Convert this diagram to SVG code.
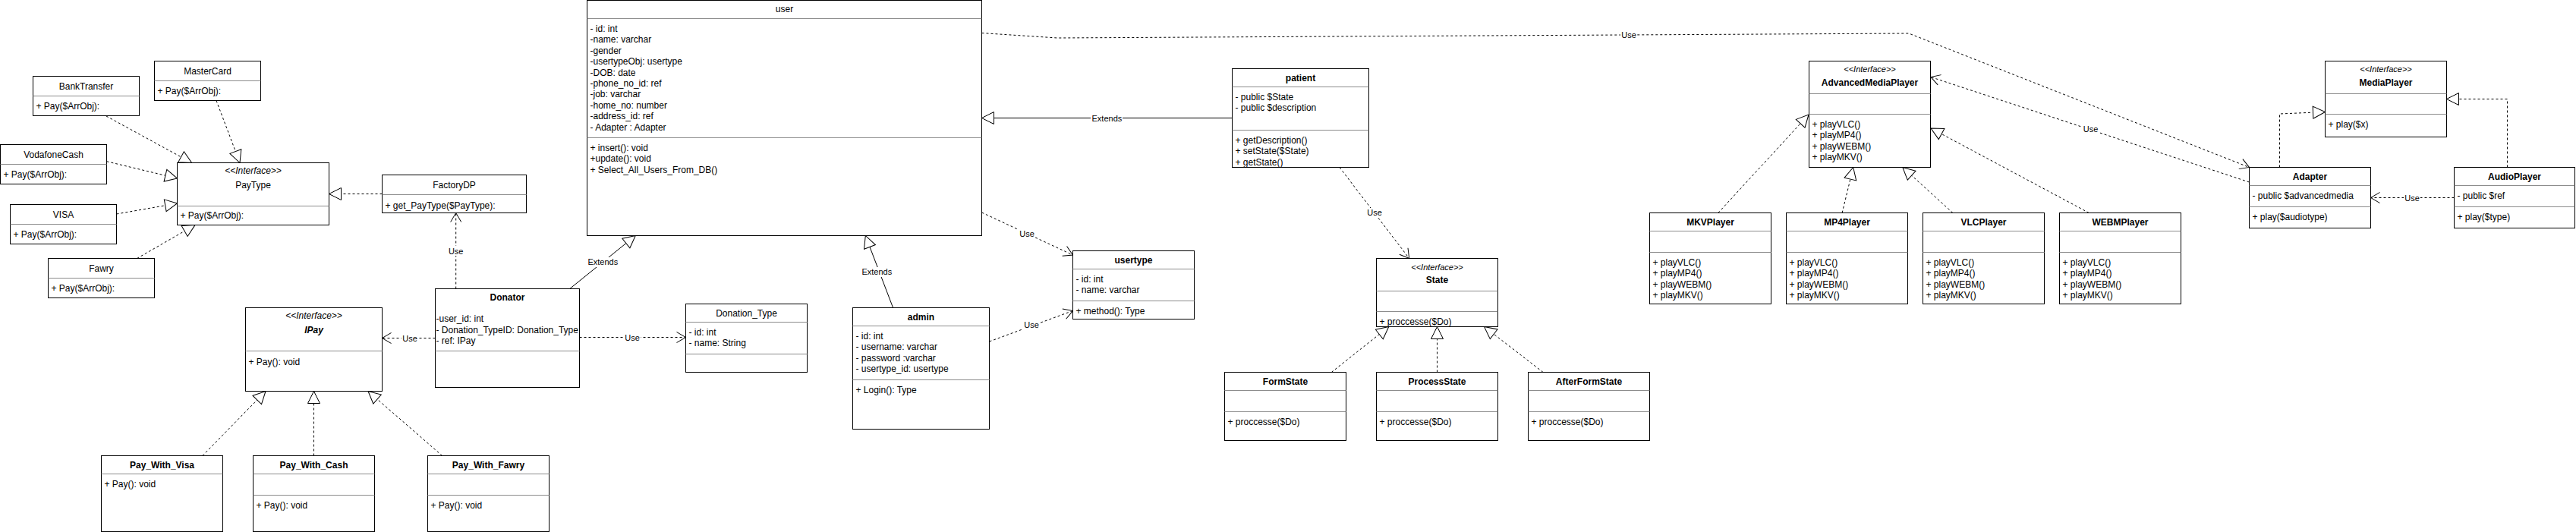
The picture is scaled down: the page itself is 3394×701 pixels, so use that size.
<svg xmlns="http://www.w3.org/2000/svg" width="3394" height="701" viewBox="0 0 3394 701">
<style>
.box{fill:#fff;stroke:#000;stroke-width:1}
.dv{stroke:#8c8c8c;stroke-width:1}
text{font-family:"Liberation Sans",Arial,Helvetica,sans-serif;font-size:12px;fill:#000}
.c{text-anchor:middle}
.b{font-weight:bold}
.i{font-style:italic}
.dash{fill:none;stroke:#000;stroke-width:1;stroke-dasharray:3 3}
.solid{fill:none;stroke:#000;stroke-width:1}
.lbl{font-size:11px;text-anchor:middle}
.lb{fill:#fff;stroke:none}
</style>
<defs>
<marker id="tri" viewBox="0 0 18 18" refX="17" refY="9" markerWidth="18" markerHeight="18" orient="auto" markerUnits="userSpaceOnUse"><path d="M1,1 L17,9 L1,17 Z" fill="#fff" stroke="#000" stroke-width="1" stroke-dasharray="none"/></marker>
<marker id="open" viewBox="0 0 14 16" refX="13" refY="8" markerWidth="14" markerHeight="16" orient="auto" markerUnits="userSpaceOnUse"><path d="M1,1 L13,8 L1,15" fill="none" stroke="#000" stroke-width="1" stroke-dasharray="none"/></marker>
</defs>
<rect x="0" y="0" width="3394" height="701" fill="#fff"/>

<g id="connectors">
<line class="dash" x1="140" y1="153" x2="252.6" y2="214.5" marker-end="url(#tri)"/>
<line class="dash" x1="285" y1="132.5" x2="316" y2="214.5" marker-end="url(#tri)"/>
<line class="dash" x1="140.5" y1="212.7" x2="233.5" y2="235" marker-end="url(#tri)"/>
<line class="dash" x1="153.5" y1="282" x2="233.5" y2="268" marker-end="url(#tri)"/>
<line class="dash" x1="180.5" y1="340.5" x2="257" y2="296.5" marker-end="url(#tri)"/>
<line class="dash" x1="503.5" y1="255.5" x2="433.5" y2="255.5" marker-end="url(#tri)"/>
<line class="dash" x1="600.7" y1="380.5" x2="600.7" y2="280.5" marker-end="url(#open)"/>
<rect class="lb" x="590" y="324" width="22" height="13"/><text class="lbl" x="600.7" y="335">Use</text>
<line class="dash" x1="573.5" y1="445.5" x2="503.5" y2="445.5" marker-end="url(#open)"/>
<rect class="lb" x="529" y="439" width="22" height="13"/><text class="lbl" x="540" y="449.5">Use</text>
<line class="dash" x1="763.5" y1="444.5" x2="903.5" y2="444.5" marker-end="url(#open)"/>
<rect class="lb" x="822" y="438" width="22" height="13"/><text class="lbl" x="833" y="448.5">Use</text>
<line class="solid" x1="750.7" y1="380.5" x2="837.3" y2="310.5" marker-end="url(#tri)"/>
<rect class="lb" x="773" y="339" width="42" height="13"/><text class="lbl" x="794.3" y="349.3">Extends</text>
<line class="dash" x1="266.8" y1="600.5" x2="350" y2="515.5" marker-end="url(#tri)"/>
<line class="dash" x1="413.5" y1="600.5" x2="413.5" y2="515.5" marker-end="url(#tri)"/>
<line class="dash" x1="582.6" y1="600.5" x2="485" y2="515.5" marker-end="url(#tri)"/>
<line class="solid" x1="1176.6" y1="405.5" x2="1140.3" y2="310.5" marker-end="url(#tri)"/>
<rect class="lb" x="1134" y="352" width="42" height="13"/><text class="lbl" x="1155.3" y="362.3">Extends</text>
<line class="dash" x1="1293.5" y1="280" x2="1413.5" y2="336" marker-end="url(#open)"/>
<rect class="lb" x="1342" y="301" width="22" height="13"/><text class="lbl" x="1353" y="311.5">Use</text>
<line class="dash" x1="1303.5" y1="450" x2="1413.5" y2="409.5" marker-end="url(#open)"/>
<rect class="lb" x="1348" y="422" width="22" height="13"/><text class="lbl" x="1359" y="432.3">Use</text>
<line class="solid" x1="1623.5" y1="155.5" x2="1293.5" y2="155.5" marker-end="url(#tri)"/>
<rect class="lb" x="1437" y="149" width="42" height="13"/><text class="lbl" x="1458.4" y="159.5">Extends</text>
<line class="dash" x1="1765" y1="220.5" x2="1856.7" y2="340.5" marker-end="url(#open)"/>
<rect class="lb" x="1800" y="274" width="22" height="13"/><text class="lbl" x="1811" y="284">Use</text>
<line class="dash" x1="1754.3" y1="490.5" x2="1829.8" y2="430.5" marker-end="url(#tri)"/>
<line class="dash" x1="1893.5" y1="490.5" x2="1893.5" y2="430.5" marker-end="url(#tri)"/>
<line class="dash" x1="2033.1" y1="490.5" x2="1955.5" y2="430.5" marker-end="url(#tri)"/>
<line class="dash" x1="2263.8" y1="280.5" x2="2383" y2="151" marker-end="url(#tri)"/>
<line class="dash" x1="2427.1" y1="280.5" x2="2441.7" y2="220.5" marker-end="url(#tri)"/>
<line class="dash" x1="2572.9" y1="280.5" x2="2506.8" y2="220.5" marker-end="url(#tri)"/>
<line class="dash" x1="2752.3" y1="280.5" x2="2544" y2="169" marker-end="url(#tri)"/>
<line class="dash" x1="2963.5" y1="240" x2="2544" y2="101.5" marker-end="url(#open)"/>
<rect class="lb" x="2743" y="164" width="22" height="13"/><text class="lbl" x="2754.5" y="174">Use</text>
<polyline class="dash" points="1293.5,43.5 1393,50 2515,44 2963.5,220.5" marker-end="url(#open)"/>
<rect class="lb" x="2135" y="40" width="22" height="13"/><text class="lbl" x="2146" y="50">Use</text>
<polyline class="dash" points="3003.5,220.5 3003.5,150 3063.5,147.5" marker-end="url(#tri)"/>
<polyline class="dash" points="3303.5,220.5 3303.5,130.5 3223.5,130.5" marker-end="url(#tri)"/>
<line class="dash" x1="3233.5" y1="260.5" x2="3123.5" y2="260.5" marker-end="url(#open)"/>
<rect class="lb" x="3167" y="254" width="22" height="13"/><text class="lbl" x="3178" y="264.5">Use</text>
</g>

<g id="BankTransfer"><rect class="box" x="43.5" y="100.5" width="140" height="52"/><line class="dv" x1="43.5" y1="126.5" x2="183.5" y2="126.5"/><text class="c" x="113.5" y="117.5">BankTransfer</text><text x="47.5" y="143.5">+ Pay($ArrObj):</text></g>
<g id="MasterCard"><rect class="box" x="203.5" y="80.5" width="140" height="52"/><line class="dv" x1="203.5" y1="106.5" x2="343.5" y2="106.5"/><text class="c" x="273.5" y="97.5">MasterCard</text><text x="207.5" y="123.5">+ Pay($ArrObj):</text></g>
<g id="VodafoneCash"><rect class="box" x="0.5" y="190.5" width="140" height="52"/><line class="dv" x1="0.5" y1="216.5" x2="140.5" y2="216.5"/><text class="c" x="70.5" y="207.5">VodafoneCash</text><text x="4.5" y="233.5">+ Pay($ArrObj):</text></g>
<g id="VISA"><rect class="box" x="13.5" y="269.5" width="140" height="52"/><line class="dv" x1="13.5" y1="295.5" x2="153.5" y2="295.5"/><text class="c" x="83.5" y="286.5">VISA</text><text x="17.5" y="312.5">+ Pay($ArrObj):</text></g>
<g id="Fawry"><rect class="box" x="63.5" y="340.5" width="140" height="52"/><line class="dv" x1="63.5" y1="366.5" x2="203.5" y2="366.5"/><text class="c" x="133.5" y="357.5">Fawry</text><text x="67.5" y="383.5">+ Pay($ArrObj):</text></g>
<g id="PayType"><rect class="box" x="233.5" y="214.5" width="200" height="82"/><line class="dv" x1="233.5" y1="271.5" x2="433.5" y2="271.5"/><text class="c i" x="333.5" y="229">&lt;&lt;Interface&gt;&gt;</text><text class="c" x="333.5" y="247.5">PayType</text><text x="237.5" y="288">+ Pay($ArrObj):</text></g>
<g id="FactoryDP"><rect class="box" x="503.5" y="230.5" width="190" height="50"/><line class="dv" x1="503.5" y1="256.5" x2="693.5" y2="256.5"/><text class="c" x="598.5" y="247.5">FactoryDP</text><text x="507.5" y="274.5">+ get_PayType($PayType):</text></g>
<g id="IPay"><rect class="box" x="323.5" y="405.5" width="180" height="110"/><line class="dv" x1="323.5" y1="462.5" x2="503.5" y2="462.5"/><text class="c i" x="413.5" y="420">&lt;&lt;Interface&gt;&gt;</text><text class="c i b" x="413.5" y="438.5">IPay</text><text x="327.5" y="480.5">+ Pay(): void</text></g>
<g id="Donator"><rect class="box" x="573.5" y="380.5" width="190" height="130"/><line class="dv" x1="573.5" y1="462.5" x2="763.5" y2="462.5"/><text class="c b" x="668.5" y="395.5">Donator</text><text x="574.5" y="424">-user_id: int</text><text x="574.5" y="438.5">- Donation_TypeID: Donation_Type</text><text x="574.5" y="453">- ref: IPay</text></g>
<g id="Pay_With_Visa"><rect class="box" x="133.5" y="600.5" width="160" height="100"/><line class="dv" x1="133.5" y1="624.5" x2="293.5" y2="624.5"/><text class="c b" x="213.5" y="616.5">Pay_With_Visa</text><text x="137.5" y="641.5">+ Pay(): void</text></g>
<g id="Pay_With_Cash"><rect class="box" x="333.5" y="600.5" width="160" height="100"/><line class="dv" x1="333.5" y1="624.5" x2="493.5" y2="624.5"/><line class="dv" x1="333.5" y1="652.5" x2="493.5" y2="652.5"/><text class="c b" x="413.5" y="616.5">Pay_With_Cash</text><text x="337.5" y="669.5">+ Pay(): void</text></g>
<g id="Pay_With_Fawry"><rect class="box" x="563.5" y="600.5" width="160" height="100"/><line class="dv" x1="563.5" y1="624.5" x2="723.5" y2="624.5"/><line class="dv" x1="563.5" y1="652.5" x2="723.5" y2="652.5"/><text class="c b" x="643.5" y="616.5">Pay_With_Fawry</text><text x="567.5" y="669.5">+ Pay(): void</text></g>
<g id="user"><rect class="box" x="773.5" y="0.5" width="520" height="310"/><line class="dv" x1="773.5" y1="24.5" x2="1293.5" y2="24.5"/><line class="dv" x1="773.5" y1="181.5" x2="1293.5" y2="181.5"/><text class="c" x="1033.5" y="16">user</text>
<text x="777.5" y="42">- id: int</text><text x="777.5" y="56.4">-name: varchar</text><text x="777.5" y="70.8">-gender</text><text x="777.5" y="85.2">-usertypeObj: usertype</text><text x="777.5" y="99.6">-DOB: date</text><text x="777.5" y="114">-phone_no_id: ref</text><text x="777.5" y="128.4">-job: varchar</text><text x="777.5" y="142.8">-home_no: number</text><text x="777.5" y="157.2">-address_id: ref</text><text x="777.5" y="171.6">- Adapter : Adapter</text>
<text x="777.5" y="199">+ insert(): void</text><text x="777.5" y="213.4">+update(): void</text><text x="777.5" y="227.8">+ Select_All_Users_From_DB()</text></g>
<g id="Donation_Type"><rect class="box" x="903.5" y="400.5" width="160" height="90"/><line class="dv" x1="903.5" y1="424.5" x2="1063.5" y2="424.5"/><line class="dv" x1="903.5" y1="466.5" x2="1063.5" y2="466.5"/><text class="c" x="983.5" y="416.5">Donation_Type</text><text x="907.5" y="442">- id: int</text><text x="907.5" y="456.4">- name: String</text></g>
<g id="admin"><rect class="box" x="1123.5" y="405.5" width="180" height="160"/><line class="dv" x1="1123.5" y1="429.5" x2="1303.5" y2="429.5"/><line class="dv" x1="1123.5" y1="500.5" x2="1303.5" y2="500.5"/><text class="c b" x="1213.5" y="421.5">admin</text><text x="1127.5" y="447">- id: int</text><text x="1127.5" y="461.4">- username: varchar</text><text x="1127.5" y="475.8">- password :varchar</text><text x="1127.5" y="490.2">- usertype_id: usertype</text><text x="1127.5" y="517.5">+ Login(): Type</text></g>
<g id="usertype"><rect class="box" x="1413.5" y="330.5" width="160" height="90"/><line class="dv" x1="1413.5" y1="354.5" x2="1573.5" y2="354.5"/><line class="dv" x1="1413.5" y1="396.5" x2="1573.5" y2="396.5"/><text class="c b" x="1493.5" y="346.5">usertype</text><text x="1417.5" y="372">- id: int</text><text x="1417.5" y="386.4">- name: varchar</text><text x="1417.5" y="413.5">+ method(): Type</text></g>
<g id="patient"><rect class="box" x="1623.5" y="90.5" width="180" height="130"/><line class="dv" x1="1623.5" y1="114.5" x2="1803.5" y2="114.5"/><line class="dv" x1="1623.5" y1="171.5" x2="1803.5" y2="171.5"/><text class="c b" x="1713.5" y="106.5">patient</text><text x="1627.5" y="132">- public $State</text><text x="1627.5" y="146.4">- public $description</text><text x="1627.5" y="189">+ getDescription()</text><text x="1627.5" y="203.4">+ setState($State)</text><text x="1627.5" y="217.8">+ getState()</text></g>
<g id="State"><rect class="box" x="1813.5" y="340.5" width="160" height="90"/><line class="dv" x1="1813.5" y1="383.5" x2="1973.5" y2="383.5"/><line class="dv" x1="1813.5" y1="410.5" x2="1973.5" y2="410.5"/><text class="c i" x="1893.5" y="355.5" style="font-size:11px">&lt;&lt;Interface&gt;&gt;</text><text class="c b" x="1893.5" y="373">State</text><text x="1817.5" y="427.5">+ proccesse($Do)</text></g>
<g id="FormState"><rect class="box" x="1613.5" y="490.5" width="160" height="90"/><line class="dv" x1="1613.5" y1="514.5" x2="1773.5" y2="514.5"/><line class="dv" x1="1613.5" y1="542.5" x2="1773.5" y2="542.5"/><text class="c b" x="1693.5" y="506.5">FormState</text><text x="1617.5" y="560">+ proccesse($Do)</text></g>
<g id="ProcessState"><rect class="box" x="1813.5" y="490.5" width="160" height="90"/><line class="dv" x1="1813.5" y1="514.5" x2="1973.5" y2="514.5"/><line class="dv" x1="1813.5" y1="542.5" x2="1973.5" y2="542.5"/><text class="c b" x="1893.5" y="506.5">ProcessState</text><text x="1817.5" y="560">+ proccesse($Do)</text></g>
<g id="AfterFormState"><rect class="box" x="2013.5" y="490.5" width="160" height="90"/><line class="dv" x1="2013.5" y1="514.5" x2="2173.5" y2="514.5"/><line class="dv" x1="2013.5" y1="542.5" x2="2173.5" y2="542.5"/><text class="c b" x="2093.5" y="506.5">AfterFormState</text><text x="2017.5" y="560">+ proccesse($Do)</text></g>
<g id="AdvancedMediaPlayer"><rect class="box" x="2383.5" y="80.5" width="160" height="140"/><line class="dv" x1="2383.5" y1="123.5" x2="2543.5" y2="123.5"/><line class="dv" x1="2383.5" y1="150.5" x2="2543.5" y2="150.5"/><text class="c i" x="2463.5" y="95" style="font-size:11px">&lt;&lt;Interface&gt;&gt;</text><text class="c b" x="2463.5" y="113">AdvancedMediaPlayer</text><text x="2387.5" y="168">+ playVLC()</text><text x="2387.5" y="182.4">+ playMP4()</text><text x="2387.5" y="196.8">+ playWEBM()</text><text x="2387.5" y="211.2">+ playMKV()</text></g>
<g id="MKVPlayer"><rect class="box" x="2173.5" y="280.5" width="160" height="120"/><line class="dv" x1="2173.5" y1="304.5" x2="2333.5" y2="304.5"/><line class="dv" x1="2173.5" y1="332.5" x2="2333.5" y2="332.5"/><text class="c b" x="2253.5" y="296.5">MKVPlayer</text><text x="2177.5" y="350">+ playVLC()</text><text x="2177.5" y="364.4">+ playMP4()</text><text x="2177.5" y="378.8">+ playWEBM()</text><text x="2177.5" y="393.2">+ playMKV()</text></g>
<g id="MP4Player"><rect class="box" x="2353.5" y="280.5" width="160" height="120"/><line class="dv" x1="2353.5" y1="304.5" x2="2513.5" y2="304.5"/><line class="dv" x1="2353.5" y1="332.5" x2="2513.5" y2="332.5"/><text class="c b" x="2433.5" y="296.5">MP4Player</text><text x="2357.5" y="350">+ playVLC()</text><text x="2357.5" y="364.4">+ playMP4()</text><text x="2357.5" y="378.8">+ playWEBM()</text><text x="2357.5" y="393.2">+ playMKV()</text></g>
<g id="VLCPlayer"><rect class="box" x="2533.5" y="280.5" width="160" height="120"/><line class="dv" x1="2533.5" y1="304.5" x2="2693.5" y2="304.5"/><line class="dv" x1="2533.5" y1="332.5" x2="2693.5" y2="332.5"/><text class="c b" x="2613.5" y="296.5">VLCPlayer</text><text x="2537.5" y="350">+ playVLC()</text><text x="2537.5" y="364.4">+ playMP4()</text><text x="2537.5" y="378.8">+ playWEBM()</text><text x="2537.5" y="393.2">+ playMKV()</text></g>
<g id="WEBMPlayer"><rect class="box" x="2713.5" y="280.5" width="160" height="120"/><line class="dv" x1="2713.5" y1="304.5" x2="2873.5" y2="304.5"/><line class="dv" x1="2713.5" y1="332.5" x2="2873.5" y2="332.5"/><text class="c b" x="2793.5" y="296.5">WEBMPlayer</text><text x="2717.5" y="350">+ playVLC()</text><text x="2717.5" y="364.4">+ playMP4()</text><text x="2717.5" y="378.8">+ playWEBM()</text><text x="2717.5" y="393.2">+ playMKV()</text></g>
<g id="MediaPlayer"><rect class="box" x="3063.5" y="80.5" width="160" height="100"/><line class="dv" x1="3063.5" y1="123.5" x2="3223.5" y2="123.5"/><line class="dv" x1="3063.5" y1="150.5" x2="3223.5" y2="150.5"/><text class="c i" x="3143.5" y="95" style="font-size:11px">&lt;&lt;Interface&gt;&gt;</text><text class="c b" x="3143.5" y="113">MediaPlayer</text><text x="3067.5" y="168">+ play($x)</text></g>
<g id="Adapter"><rect class="box" x="2963.5" y="220.5" width="160" height="80"/><line class="dv" x1="2963.5" y1="244.5" x2="3123.5" y2="244.5"/><line class="dv" x1="2963.5" y1="272.5" x2="3123.5" y2="272.5"/><text class="c b" x="3043.5" y="236.5">Adapter</text><text x="2967.5" y="262">- public $advancedmedia</text><text x="2967.5" y="290">+ play($audiotype)</text></g>
<g id="AudioPlayer"><rect class="box" x="3233.5" y="220.5" width="159" height="80"/><line class="dv" x1="3233.5" y1="244.5" x2="3392.5" y2="244.5"/><line class="dv" x1="3233.5" y1="272.5" x2="3392.5" y2="272.5"/><text class="c b" x="3313" y="236.5">AudioPlayer</text><text x="3237.5" y="262">- public $ref</text><text x="3237.5" y="290">+ play($type)</text></g>
</svg>
